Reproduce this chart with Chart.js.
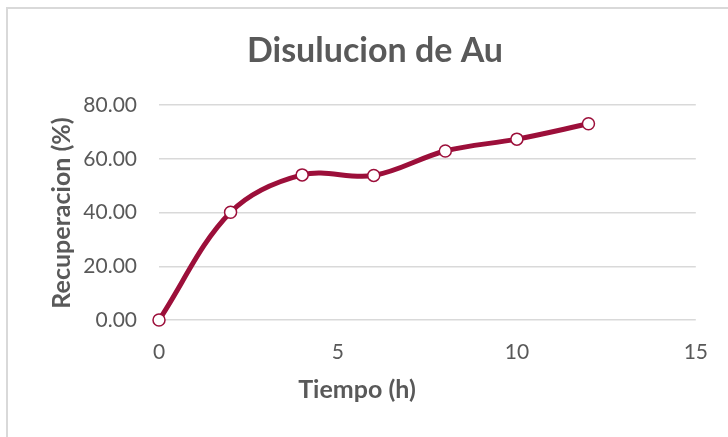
<!DOCTYPE html>
<html>
<head>
<meta charset="utf-8">
<script src="https://cdn.jsdelivr.net/npm/chart.js@4/dist/chart.umd.min.js"></script>
<style>
  html, body { margin: 0; padding: 0; background: #ffffff; overflow: hidden; }
  #frame { position: absolute; left: 6px; top: 7px; width: 760px; height: 460px; border: 2px solid #d9d9d9; box-sizing: border-box; }
  #wrap { position: absolute; left: 0; top: 0; width: 728px; height: 437px; }
</style>
</head>
<body>
<div id="frame"></div>
<div id="wrap"><canvas id="c" width="728" height="437"></canvas></div>
<script>
const titleText = "Disulucion de Au";
const xAxisTitle = "Tiempo (h)";
const yAxisTitle = "Recuperacion (%)";
const timeHours = [0, 2, 4, 6, 8, 10, 12];
const recovery = [0.0, 40.1, 54.0, 53.8, 62.9, 67.3, 73.0];
const seriesName = "Recuperacion";

const textColor = "#595959";
const lineColor = "#9C0F3A";

const axisTitlesPlugin = {
  id: 'axisTitles',
  afterDraw(chart) {
    const ctx = chart.ctx;
    ctx.save();
    ctx.fillStyle = textColor;
    ctx.font = "bold 25px Lato";
    ctx.textAlign = "center";
    ctx.textBaseline = "middle";
    ctx.fillText(xAxisTitle, 357, 390);
    ctx.translate(62, 213);
    ctx.rotate(-Math.PI / 2);
    ctx.fillText(yAxisTitle, 0, 0);
    ctx.restore();
  }
};

new Chart(document.getElementById('c'), {
  type: 'line',
  data: {
    datasets: [{
      label: seriesName,
      data: timeHours.map((x, i) => ({ x: x, y: recovery[i] })),
      borderColor: lineColor,
      borderWidth: 5,
      backgroundColor: '#ffffff',
      pointBackgroundColor: '#ffffff',
      pointBorderColor: lineColor,
      pointBorderWidth: 1.5,
      pointRadius: 6,
      tension: 0.35,
      fill: false,
      clip: false
    }]
  },
  options: {
    responsive: false,
    animation: false,
    layout: { padding: { left: 53, right: 31, top: 0, bottom: 0 } },
    plugins: {
      legend: { display: false },
      tooltip: { enabled: false },
      title: {
        display: true,
        text: titleText,
        color: textColor,
        font: { family: 'Lato', size: 34, weight: 'bold' },
        padding: { top: 30.6, bottom: 33.6 }
      }
    },
    scales: {
      x: {
        type: 'linear',
        min: 0, max: 15,
        ticks: { stepSize: 5, color: textColor, font: { family: 'Lato', size: 21 }, padding: 20 },
        grid: { display: false, drawTicks: false },
        border: { display: false },
        afterFit(s) { s.height = 117; }
      },
      y: {
        min: 0, max: 80,
        ticks: {
          stepSize: 20, color: textColor, font: { family: 'Lato', size: 21 }, padding: 22,
          callback: v => Number(v).toFixed(2)
        },
        grid: { color: '#d9d9d9', lineWidth: 1.5, drawTicks: false },
        border: { display: false },
        afterFit(s) { s.width = 106; }
      }
    }
  },
  plugins: [axisTitlesPlugin]
});
</script>
</body>
</html>
